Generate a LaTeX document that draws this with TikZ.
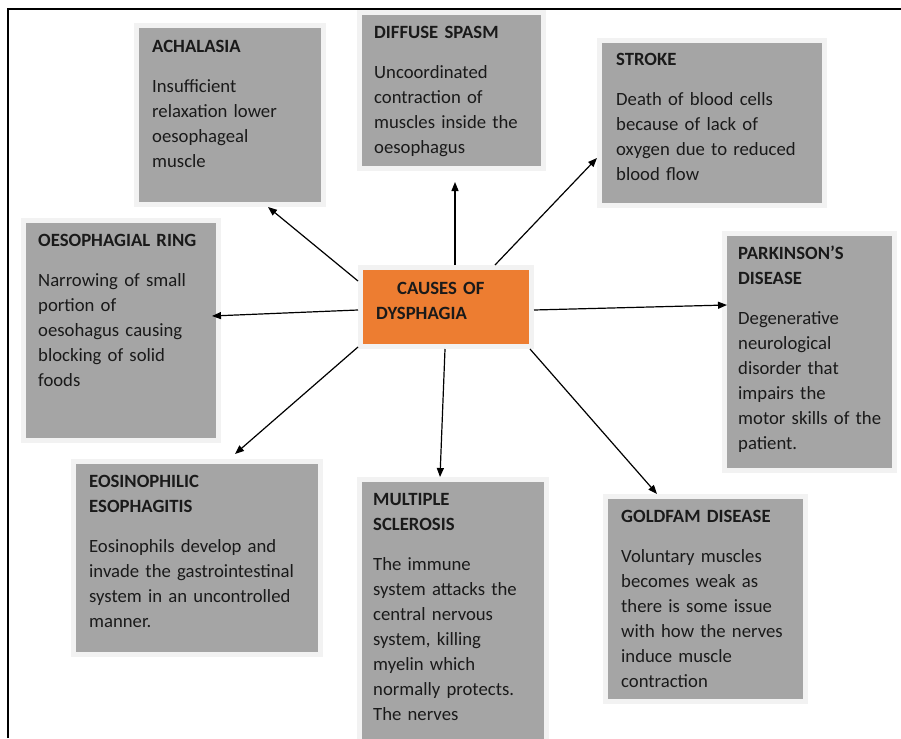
\documentclass[tikz,border=0pt]{standalone}
\usepackage{fontspec}
\setmainfont{Carlito}
\usetikzlibrary{arrows.meta}
\definecolor{boxgray}{HTML}{A5A5A5}
\definecolor{glow}{HTML}{F2F2F2}
\definecolor{orng}{HTML}{ED7D31}
\definecolor{ink}{HTML}{1A1A1A}
\begin{document}
\begin{tikzpicture}[x=1pt,y=-1pt,
  box/.style={fill=boxgray, preaction={draw=glow, line width=10pt}, outer sep=5pt, inner sep=0pt, anchor=north west},
  causebox/.style={box, fill=orng},
  txt/.style={anchor=north west, inner sep=0pt, text width=240pt, align=left, font=\fontsize{18.7}{25}\selectfont, text=ink},
  arr/.style={draw=black, line width=1.2pt, -{Triangle[length=9pt,width=7pt]}}]
\useasboundingbox (0,0) rectangle (901,738);
\clip (0,0) rectangle (901,738);
\fill[white] (0,0) rectangle (901,738);
% boxes (positions are outer glow corners)
\node[box, minimum width=182pt, minimum height=174pt] (ach) at (134,23) {};
\node[box, minimum width=179pt, minimum height=151pt] (dif) at (357,10) {};
\node[box, minimum width=220pt, minimum height=160pt] (str) at (597,38) {};
\node[box, minimum width=190pt, minimum height=215pt] (oes) at (21,218) {};
\node[causebox, minimum width=166pt, minimum height=74pt] (cause) at (358,265) {};
\node[box, minimum width=165pt, minimum height=232pt] (par) at (722,231) {};
\node[box, minimum width=242pt, minimum height=188pt] (eos) at (71,459) {};
\node[box, minimum width=182pt, minimum height=280pt] (mul) at (357,477) {};
\node[box, minimum width=195pt, minimum height=200pt] (gol) at (603,494) {};
% texts
\node[txt] (ach-t) at (152,34.5) {\strut\textbf{ACHALASIA}\\[15pt]Insufficient\\relaxation lower\\oesophageal\\muscle};
\node[txt] (dif-t) at (374,20.5) {\strut\textbf{DIFFUSE SPASM}\\[15pt]Uncoordinated\\contraction of\\muscles inside the\\oesophagus};
\node[txt] (str-t) at (616,47.5) {\strut\textbf{STROKE}\\[15pt]Death of blood cells\\because of lack of\\oxygen due to reduced\\blood flow};
\node[txt] (oes-t) at (38,228.5) {\strut\textbf{OESOPHAGIAL RING}\\[15pt]Narrowing of small\\portion of\\oesohagus causing\\blocking of solid\\foods};
\node[txt] (cause-t) at (376,276.5) {\strut\textbf{\hspace*{21pt}CAUSES OF}\\\textbf{DYSPHAGIA}};
\node[txt] (par-t) at (738,241.5) {\strut\textbf{PARKINSON’S}\\\textbf{DISEASE}\\[15pt]Degenerative\\neurological\\disorder that\\impairs the\\motor skills of the\\patient.};
\node[txt] (eos-t) at (89,469.5) {\strut\textbf{EOSINOPHILIC}\\\textbf{ESOPHAGITIS}\\[15pt]Eosinophils develop and\\invade the gastrointestinal\\system in an uncontrolled\\manner.};
\node[txt] (mul-t) at (373,487.5) {\strut\textbf{MULTIPLE}\\\textbf{SCLEROSIS}\\[15pt]The immune\\system attacks the\\central nervous\\system, killing\\myelin which\\normally protects.\\The nerves};
\node[txt] (gol-t) at (621,504.5) {\strut\textbf{GOLDFAM DISEASE}\\[15pt]Voluntary muscles\\becomes weak as\\there is some issue\\with how the nerves\\induce muscle\\contraction};
% arrows
\draw[arr] ([yshift=26pt]cause.west) -- ([xshift=38pt]ach.south);
\draw[arr] ([xshift=9pt]cause.north) -- ([xshift=3.5pt,yshift=-11pt]dif.south);
\draw[arr] ([xshift=49pt]cause.north) -- ([yshift=-35pt]str.west);
\draw[arr] ([yshift=-3pt]cause.west) -- ([xshift=-9pt,yshift=14.5pt]oes.east);
\draw[arr] ([yshift=-3pt]cause.east) -- ([xshift=5pt,yshift=47pt]par.west);
\draw[arr] ([yshift=2pt]cause.south west) -- ([xshift=38pt,yshift=5pt]eos.north);
\draw[arr] ([xshift=-1pt]cause.south) -- ([xshift=-13pt]mul.north);
\draw[arr] ([xshift=-4pt]cause.south east) -- ([xshift=-48.5pt]gol.north);
% frame
\draw[line width=1.2pt] (8,738) -- (8,9) -- (901,9);
\end{tikzpicture}
\end{document}
